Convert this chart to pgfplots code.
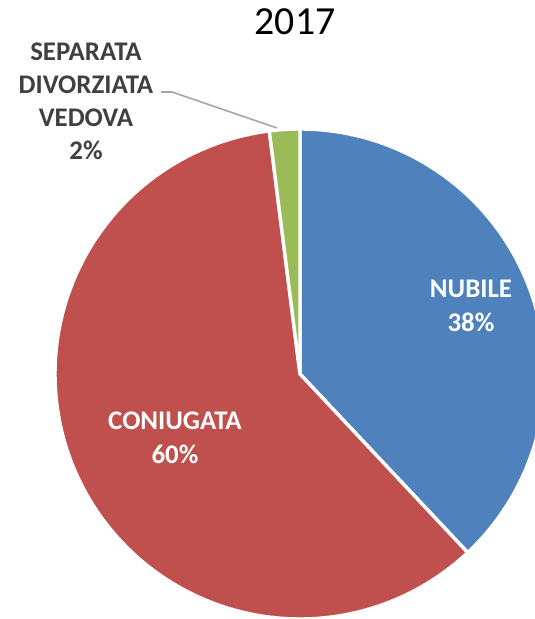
\documentclass[border=0pt]{standalone}
\usepackage{pgfplots}
\usepackage{pgfplotstable}
\pgfplotsset{compat=1.18}
\usepackage{fontspec}
\setmainfont{Carlito}
\definecolor{cBlue}{HTML}{4F81BD}
\definecolor{cRed}{HTML}{C0504D}
\definecolor{cGreen}{HTML}{9BBB59}
\definecolor{cText}{HTML}{404040}
\definecolor{cLead}{HTML}{A6A6A6}
\pgfplotstableread{
label value
NUBILE 38
CONIUGATA 60
ALTRO 2
}\piedata
\begin{document}%
\pgfplotstablegetelem{0}{value}\of\piedata\let\va\pgfplotsretval%
\pgfplotstablegetelem{1}{value}\of\piedata\let\vb\pgfplotsretval%
\pgfplotstablegetelem{2}{value}\of\piedata\let\vc\pgfplotsretval%
\pgfmathsetmacro\aA{90}%
\pgfmathsetmacro\aB{90-3.6*\va}%
\pgfmathsetmacro\aC{\aB-3.6*\vb}%
\pgfmathsetmacro\aD{\aC-3.6*\vc}%
\begin{tikzpicture}
\begin{axis}[
  name=pie,
  width=535bp, height=619bp, scale only axis,
  xmin=0, xmax=535, ymin=0, ymax=619,
  axis lines=none, clip=true,
]
\addplot[fill=cBlue, draw=white, line width=3.4bp, line join=round, domain=\aB:\aA, samples=120]
  ({300+245*cos(x)},{245+245*sin(x)}) -- (axis cs:300,245) -- cycle;
\addplot[fill=cRed, draw=white, line width=3.4bp, line join=round, domain=\aC:\aB, samples=160]
  ({300+245*cos(x)},{245+245*sin(x)}) -- (axis cs:300,245) -- cycle;
\addplot[fill=cGreen, draw=white, line width=3.4bp, line join=round, domain=\aD:\aC, samples=10]
  ({300+245*cos(x)},{245+245*sin(x)}) -- (axis cs:300,245) -- cycle;
\addplot[cLead, line width=1.6bp, no marks] coordinates {(161,527) (172,527) (277,491)};
\node[anchor=base, font=\fontsize{40}{44}\selectfont] at (axis cs:295,584) {2017};
\begin{scope}[every node/.style={anchor=base, font=\bfseries\fontsize{27}{30}\selectfont}]
\node[text=white] at (axis cs:471,321) {NUBILE};
\node[text=white] at (axis cs:471,287) {38\%};
\node[text=white] at (axis cs:175,189) {CONIUGATA};
\node[text=white] at (axis cs:175,155) {60\%};
\node[text=cText] at (axis cs:86,558) {SEPARATA};
\node[text=cText] at (axis cs:86,525) {DIVORZIATA};
\node[text=cText] at (axis cs:86,492) {VEDOVA};
\node[text=cText] at (axis cs:86,459) {2\%};
\end{scope}
\end{axis}
\pgfresetboundingbox
\path[use as bounding box] (pie.south west) rectangle (pie.north east);
\end{tikzpicture}%
\end{document}
